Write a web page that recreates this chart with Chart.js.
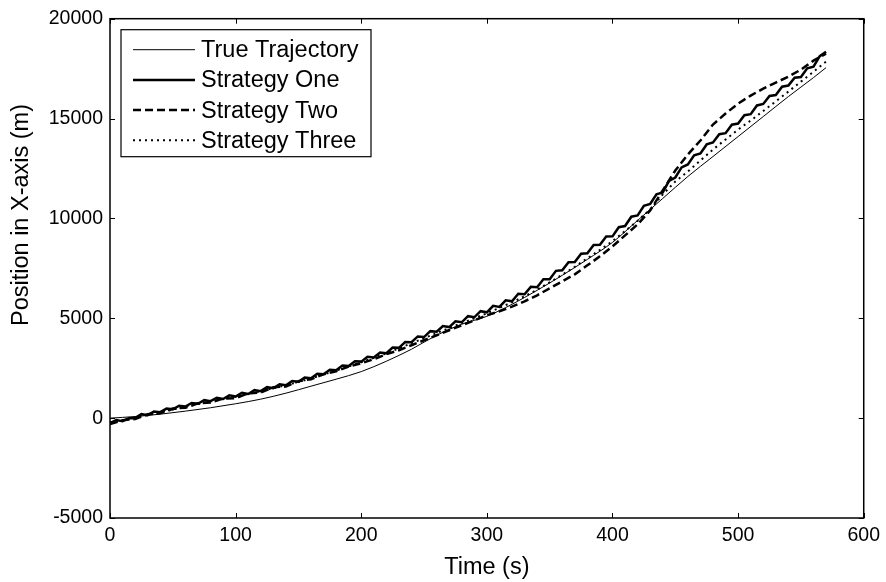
<!DOCTYPE html>
<html>
<head>
<meta charset="utf-8">
<title>Position in X-axis</title>
<script src="https://cdn.jsdelivr.net/npm/chart.js@4.4.1/dist/chart.umd.min.js"></script>
<style>
  html, body { margin: 0; padding: 0; background: #fff; }
  #wrap { width: 886px; height: 582px; }
</style>
</head>
<body>
<div id="wrap"><canvas id="posChart" width="886" height="582"></canvas></div>
<script>
// Datos (tiempo en s, posicion en m)
const tTrue = [0, 20, 40, 60, 80, 100, 120, 140, 160, 180, 200, 220, 240, 260, 280, 300, 320, 340, 360, 380, 400, 420, 440, 460, 480, 500, 520, 540, 560, 570];
const xTrue = [0, 80, 200, 350, 520, 720, 950, 1250, 1600, 1950, 2330, 2850, 3450, 4150, 4700, 5100, 5700, 6400, 7150, 7950, 8800, 9900, 11000, 12100, 13100, 14100, 15100, 16100, 17050, 17550];

const tOne = [0, 5, 10, 15, 20, 25, 30, 35, 40, 45, 50, 55, 60, 65, 70, 75, 80, 85, 90, 95,
  100, 105, 110, 115, 120, 125, 130, 135, 140, 145, 150, 155, 160, 165, 170, 175, 180, 185, 190, 195,
  200, 205, 210, 215, 220, 225, 230, 235, 240, 245, 250, 255, 260, 265, 270, 275, 280, 285, 290, 295,
  300, 305, 310, 315, 320, 325, 330, 335, 340, 345, 350, 355, 360, 365, 370, 375, 380, 385, 390, 395,
  400, 405, 410, 415, 420, 425, 430, 435, 440, 445, 450, 455, 460, 465, 470, 475, 480, 485, 490, 495,
  500, 505, 510, 515, 520, 525, 530, 535, 540, 545, 550, 555, 560, 565, 570];
const xOne = [-250, -90, -150, 0, 0, 200, 150, 330, 300, 480, 440, 620, 580, 760, 720, 900, 850, 1020, 960, 1140,
  1080, 1270, 1210, 1400, 1350, 1550, 1500, 1700, 1650, 1860, 1820, 2030, 2000, 2220, 2200, 2420, 2400, 2635, 2610, 2850,
  2830, 3075, 3040, 3285, 3250, 3535, 3520, 3810, 3800, 4090, 4060, 4355, 4330, 4615, 4560, 4850, 4800, 5105, 5050, 5355,
  5300, 5625, 5570, 5900, 5850, 6225, 6200, 6575, 6550, 6950, 6950, 7375, 7400, 7810, 7820, 8235, 8250, 8665, 8680, 9090,
  9100, 9560, 9620, 10085, 10150, 10635, 10720, 11210, 11300, 11875, 12050, 12555, 12700, 13155, 13250, 13705, 13800, 14215, 14270, 14690,
  14750, 15165, 15220, 15655, 15730, 16135, 16180, 16595, 16650, 17045, 17080, 17520, 17600, 18125, 18350];

const tTwoThree = [0, 10, 20, 30, 40, 50, 60, 70, 80, 90, 100, 110, 120, 130, 140, 150, 160, 170, 180, 190,
  200, 210, 220, 230, 240, 250, 260, 270, 280, 290, 300, 310, 320, 330, 340, 350, 360, 370, 380, 390,
  400, 410, 420, 430, 440, 450, 460, 470, 480, 490, 500, 510, 520, 530, 540, 550, 560, 570];
const xTwo = [-300, -100, -50, 200, 250, 480, 520, 740, 780, 980,
  1000, 1250, 1280, 1550, 1580, 1850, 1950, 2200, 2350, 2580,
  2750, 2950, 3200, 3400, 3650, 3900, 4150, 4400, 4650, 4900,
  5150, 5350, 5580, 5850, 6150, 6500, 6850, 7200, 7650, 8100,
  8600, 9150, 9700, 10400, 11400, 12400, 13200, 13900, 14700, 15250,
  15750, 16150, 16500, 16800, 17100, 17450, 17900, 18250];
const xThree = [-200, -120, 20, 150, 290, 430, 570, 700, 840, 960,
  1080, 1210, 1350, 1500, 1650, 1810, 1990, 2180, 2380, 2590,
  2800, 3020, 3240, 3490, 3750, 4000, 4260, 4500, 4760, 5000,
  5250, 5520, 5800, 6100, 6430, 6800, 7180, 7580, 8000, 8420,
  8860, 9360, 9880, 10450, 11200, 11850, 12350, 12900, 13450, 13950,
  14450, 14900, 15380, 15860, 16350, 16850, 17340, 17850];

const xTicks = [0, 100, 200, 300, 400, 500, 600];
const yTicks = [-5000, 0, 5000, 10000, 15000, 20000];

const FUENTE = '"Liberation Sans", Arial, Helvetica, sans-serif';

function puntos(ts, vs) {
  return ts.map((t, i) => ({ x: t, y: vs[i] }));
}

// Marco, marcas hacia dentro, leyenda y titulo del eje Y (estilo MATLAB)
const marcoEjes = {
  id: "marcoEjes",
  afterDatasetsDraw(chart) {
    const { ctx, chartArea: a, scales } = chart;
    ctx.save();
    ctx.strokeStyle = "#000";
    ctx.lineWidth = 1;
    const linea = (x1, y1, x2, y2) => {
      ctx.beginPath();
      ctx.moveTo(x1, y1);
      ctx.lineTo(x2, y2);
      ctx.stroke();
    };
    xTicks.forEach((v) => {
      const px = Math.round(scales.x.getPixelForValue(v)) + 0.5;
      linea(px, a.bottom, px, a.bottom - 5);
      linea(px, a.top, px, a.top + 5);
    });
    yTicks.forEach((v) => {
      const py = Math.round(scales.y.getPixelForValue(v)) + 0.5;
      linea(a.left, py, a.left + 5, py);
      linea(a.right, py, a.right - 5, py);
    });
    ctx.lineWidth = 1.5;
    ctx.strokeRect(a.left, a.top, a.right - a.left, a.bottom - a.top);

    // leyenda
    const lx = a.left + 11;
    const ly = a.top + 11;
    ctx.fillStyle = "#fff";
    ctx.fillRect(lx, ly, 250, 127);
    ctx.lineWidth = 1.2;
    ctx.strokeRect(lx, ly, 250, 127);
    ctx.font = "23.5px " + FUENTE;
    ctx.textBaseline = "middle";
    ctx.textAlign = "left";
    chart.data.datasets.forEach((ds, i) => {
      const ry = ly + 20 + i * 30.2;
      ctx.strokeStyle = ds.borderColor;
      ctx.lineWidth = ds.borderWidth;
      ctx.setLineDash(ds.borderDash || []);
      linea(lx + 12, ry, lx + 74, ry);
      ctx.setLineDash([]);
      ctx.fillStyle = "#000";
      ctx.fillText(ds.label, lx + 80, ry + 1);
    });

    // titulo del eje Y
    ctx.translate(22, 215);
    ctx.rotate(-Math.PI / 2);
    ctx.textAlign = "center";
    ctx.textBaseline = "middle";
    ctx.fillStyle = "#000";
    ctx.fillText("Position in X-axis (m)", 0, 0);
    ctx.restore();
  },
};

const ctx = document.getElementById("posChart");
const posChart = new Chart(ctx, {
  type: "line",
  data: {
    datasets: [
      {
        label: "True Trajectory",
        data: puntos(tTrue, xTrue),
        borderColor: "#000",
        borderWidth: 1,
        cubicInterpolationMode: "monotone",
        order: 4,
      },
      {
        label: "Strategy One",
        data: puntos(tOne, xOne),
        borderColor: "#000",
        borderWidth: 2.5,
        tension: 0,
        order: 3,
      },
      {
        label: "Strategy Two",
        data: puntos(tTwoThree, xTwo),
        borderColor: "#000",
        borderWidth: 2.5,
        borderDash: [8, 4],
        tension: 0,
        order: 2,
      },
      {
        label: "Strategy Three",
        data: puntos(tTwoThree, xThree),
        borderColor: "#000",
        borderWidth: 2,
        borderDash: [2, 4],
        tension: 0,
        order: 1,
      },
    ],
  },
  options: {
    responsive: false,
    animation: false,
    devicePixelRatio: 1,
    layout: { padding: { top: 13, right: 17, left: 0, bottom: 0 } },
    elements: { point: { radius: 0 }, line: { fill: false } },
    plugins: { legend: { display: false }, tooltip: { enabled: false } },
    scales: {
      x: {
        type: "linear",
        min: 0,
        max: 600,
        grid: { display: false, drawTicks: false },
        border: { display: false },
        afterFit(scale) { scale.height = 64; },
        afterBuildTicks(scale) { scale.ticks = xTicks.map((v) => ({ value: v })); },
        ticks: {
          color: "#000",
          padding: 6,
          maxRotation: 0,
          autoSkip: false,
          font: { family: FUENTE, size: 19.5 },
          callback: (v) => String(v),
        },
        title: {
          display: true,
          text: "Time (s)",
          color: "#000",
          padding: { top: 2, bottom: 0 },
          font: { family: FUENTE, size: 23.5 },
        },
      },
      y: {
        type: "linear",
        min: -5000,
        max: 20000,
        grid: { display: false, drawTicks: false },
        border: { display: false },
        afterFit(scale) { scale.width = 110; },
        afterBuildTicks(scale) { scale.ticks = yTicks.map((v) => ({ value: v })); },
        ticks: {
          color: "#000",
          padding: 7,
          autoSkip: false,
          font: { family: FUENTE, size: 19.5 },
          callback: (v) => String(v),
        },
      },
    },
  },
  plugins: [marcoEjes],
});
</script>
</body>
</html>
